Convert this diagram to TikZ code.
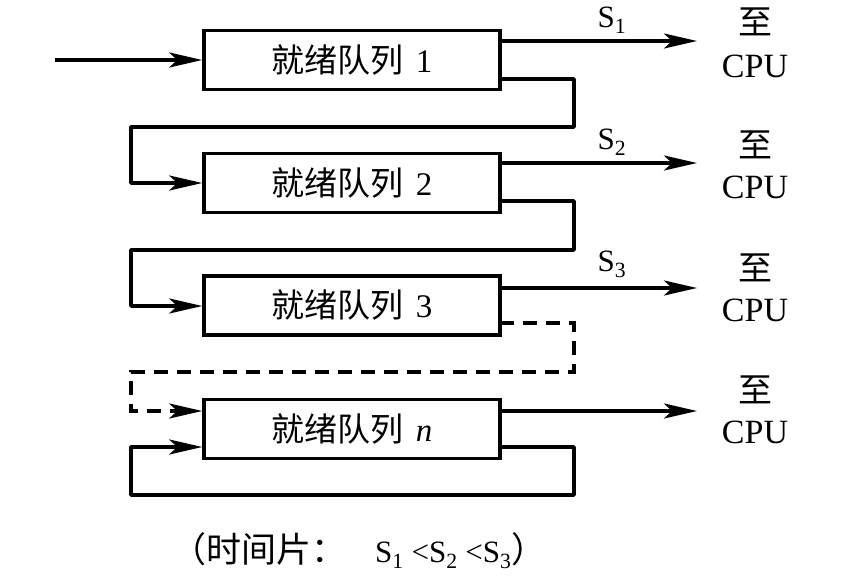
\documentclass[tikz,border=0pt]{standalone}
\usepackage{fontspec}
\setmainfont{Liberation Serif}
\newfontfamily\cjk{Noto Sans CJK SC}
\usetikzlibrary{arrows.meta,calc}
\begin{document}
\begin{tikzpicture}[x=1pt,y=-1pt,
  qbox/.style={draw,line width=3.5pt,minimum width=296pt,minimum height=59pt,inner sep=0pt,font=\fontsize{33}{33}\selectfont},
  arr/.style={line width=3.5pt,-{Stealth[length=33pt,width=15pt,inset=8pt]}},
  lbl/.style={font=\fontsize{31}{31}\selectfont,inner sep=0pt},
  tip/.style={font=\fontsize{34}{34}\selectfont,inner sep=0pt}]
\useasboundingbox (0,0) rectangle (854,584);
\node[qbox] (q1) at (352,60) {{\cjk 就绪队列}\hspace{12pt}1};
\node[qbox] (q2) at (352,183) {{\cjk 就绪队列}\hspace{12pt}2};
\node[qbox] (q3) at (352,305.5) {{\cjk 就绪队列}\hspace{12pt}3};
\node[qbox] (qn) at (352,429) {{\cjk 就绪队列}\hspace{12pt}\textit{n}};
% input
\coordinate (in) at (55,60);
\draw[arr] (in) -- (q1.west);
% outputs
\foreach \q/\y/\a/\b in {q1/41/22/66, q2/163/145/187, q3/288/268/310, qn/411/390/432}{
  \coordinate (o\q) at (697,\y);
  \draw[arr] (\q.east |- o\q) -- (o\q);
  \node[tip] (z\q) at (755,\a) {\cjk 至};
  \node[tip] (c\q) at (755,\b) {CPU};
}
\node[lbl] (s1) at (612,20) {S\textsubscript{1}};
\node[lbl] (s2) at (612,142) {S\textsubscript{2}};
\node[lbl] (s3) at (612,264) {S\textsubscript{3}};
% feedback loops
\coordinate (a1) at (500,79); \coordinate (b1) at (574,127);
\draw[arr,line join=round] (a1) -| (b1) -| (131,183) -- (q2.west);
\coordinate (a2) at (500,201); \coordinate (b2) at (574,250);
\draw[arr,line join=round] (a2) -| (b2) -| (131,306) -- (q3.west |- 0,306);
\coordinate (a3) at (500,323); \coordinate (b3) at (574,372);
\draw[arr,dashed,dash pattern=on 14pt off 9pt] (a3) -| (b3) -| (131,411) -- (qn.west |- 0,411);
\coordinate (a4) at (500,447); \coordinate (b4) at (574,495);
\draw[arr,line join=round] (a4) -| (b4) -| (131,447) -- (qn.west |- 0,447);
\node[lbl,anchor=west] (note) at (171,551) {{\cjk\fontsize{35}{35}\selectfont （时间片：}\hspace{29pt}S\textsubscript{1} <S\textsubscript{2} <S\textsubscript{3}{\cjk\fontsize{35}{35}\selectfont ）}};
\end{tikzpicture}
\end{document}
